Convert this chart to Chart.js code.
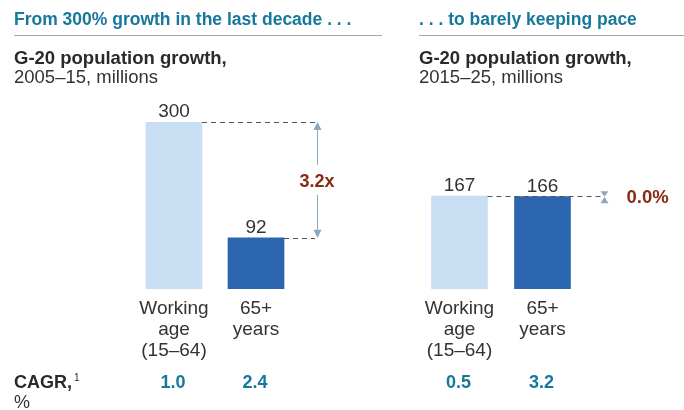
<!DOCTYPE html>
<html>
<head>
<meta charset="utf-8">
<script src="https://cdn.jsdelivr.net/npm/chart.js@4/dist/chart.umd.min.js"></script>
<style>
body { margin: 0; background: #fff; font-family: "Liberation Sans", Arial, sans-serif; }
#wrap { position: relative; width: 684px; height: 410px; overflow: hidden; }
canvas { position: absolute; left: 0; top: 0; }
.t { position: absolute; white-space: nowrap; line-height: 1; color: #333; }
.head { font-weight: bold; font-size: 17.5px; color: #16789a; }
.sub { font-weight: bold; font-size: 18.5px; color: #2a2a2a; }
.reg { font-size: 18.5px; color: #333; }
.rule { position: absolute; height: 1px; background: #a6a6a6; }
sup { font-size: 10px; font-weight: normal; vertical-align: 7px; margin-left: 2px; }
</style>
</head>
<body>
<div id="wrap">
  <canvas id="left" width="684" height="410"></canvas>
  <canvas id="right" width="684" height="410"></canvas>

  <div class="t head" style="left:14px;top:11px;">From 300% growth in the last decade . . .</div>
  <div class="rule" style="left:14px;top:35px;width:368px;"></div>
  <div class="t head" style="left:419px;top:11px;">. . . to barely keeping pace</div>
  <div class="rule" style="left:419px;top:35px;width:265px;"></div>

  <div class="t sub" style="left:14px;top:49px;">G-20 population growth,</div>
  <div class="t reg" style="left:14px;top:68px;">2005–15, millions</div>
  <div class="t sub" style="left:419px;top:49px;">G-20 population growth,</div>
  <div class="t reg" style="left:419px;top:68px;">2015–25, millions</div>

  <div class="t sub" style="left:14px;top:373px;font-size:18px;">CAGR,<sup>1</sup></div>
  <div class="t reg" style="left:14px;top:393px;font-size:18px;">%</div>
</div>
<script>
// categories (multi-line labels under the bars)
const categories = [["Working", "age", "(15–64)"], ["65+", "years"]];
// population growth, millions
const growth0515 = [300, 92];
const growth1525 = [167, 166];
// compound annual growth rate, %
const cagr0515 = [1.0, 2.4];
const cagr1525 = [0.5, 3.2];
// comparison callouts
const ratioLabel = "3.2x";
const diffLabel = "0.0%";

const lightBlue = "#c8def2";
const darkBlue = "#2c66b0";
const teal = "#16789a";
const darkRed = "#8a2a14";
const arrowColor = "#8aa9c1";

function triangle(ctx, x, tipY, baseY, half) {
    ctx.beginPath();
    ctx.moveTo(x, tipY);
    ctx.lineTo(x - half, baseY);
    ctx.lineTo(x + half, baseY);
    ctx.closePath();
    ctx.fill();
}

// draws value labels, category labels, CAGR row and the callout
const labelsPlugin = {
    id: "labels",
    afterDatasetsDraw(chart, args, opts) {
        const ctx = chart.ctx;
        const bars = chart.getDatasetMeta(0).data;
        const vals = chart.data.datasets[0].data;
        const bottom = chart.chartArea.bottom;
        ctx.save();
        ctx.textAlign = "center";
        ctx.textBaseline = "alphabetic";
        bars.forEach((bar, i) => {
            ctx.fillStyle = "#333";
            ctx.font = "19px 'Liberation Sans', Arial, sans-serif";
            ctx.fillText(String(vals[i]), bar.x, bar.y - 5);
            categories[i].forEach((line, j) => {
                ctx.fillText(line, bar.x, bottom + 25 + j * 21);
            });
            ctx.fillStyle = teal;
            ctx.font = "bold 18px 'Liberation Sans', Arial, sans-serif";
            ctx.fillText(opts.cagr[i].toFixed(1), bar.x - 1, bottom + 99);
        });

        // dashed guides
        const b0 = bars[0], b1 = bars[1];
        const arrowX = b1.x + b1.width / 2 + opts.gap;
        ctx.strokeStyle = "#555";
        ctx.lineWidth = 1;
        ctx.setLineDash([5, 4]);
        ctx.beginPath();
        ctx.moveTo(b0.x + b0.width / 2, Math.round(b0.y) + 0.5);
        ctx.lineTo(arrowX - 2, Math.round(b0.y) + 0.5);
        if (opts.kind === "ratio") {
            ctx.moveTo(b1.x + b1.width / 2, Math.round(b1.y) + 0.5);
            ctx.lineTo(arrowX - 2, Math.round(b1.y) + 0.5);
        }
        ctx.stroke();
        ctx.setLineDash([]);

        ctx.fillStyle = arrowColor;
        ctx.strokeStyle = arrowColor;
        if (opts.kind === "ratio") {
            const top = b0.y, bot = b1.y, mid = (top + bot) / 2;
            ctx.beginPath();
            ctx.moveTo(arrowX + 0.5, top + 6);
            ctx.lineTo(arrowX + 0.5, mid - 15);
            ctx.moveTo(arrowX + 0.5, mid + 15);
            ctx.lineTo(arrowX + 0.5, bot - 6);
            ctx.stroke();
            triangle(ctx, arrowX + 0.5, top, top + 8, 4);
            triangle(ctx, arrowX + 0.5, bot, bot - 8, 4);
            ctx.fillStyle = darkRed;
            ctx.font = "bold 18px 'Liberation Sans', Arial, sans-serif";
            ctx.textBaseline = "middle";
            ctx.fillText(opts.text, arrowX, mid + 2);
        } else {
            const y = (b0.y + b1.y) / 2 + 0.5;
            triangle(ctx, arrowX + 2, y, y - 5.5, 4);
            triangle(ctx, arrowX + 2, y, y + 6.5, 4);
            ctx.fillStyle = darkRed;
            ctx.font = "bold 18.5px 'Liberation Sans', Arial, sans-serif";
            ctx.textAlign = "left";
            ctx.textBaseline = "middle";
            ctx.fillText(opts.text, arrowX + 24, y + 1);
        }
        ctx.restore();
    }
};

function makeChart(id, values, padLeft, padRight, opts) {
    return new Chart(document.getElementById(id), {
        type: "bar",
        data: {
            labels: categories.map(c => c.join(" ")),
            datasets: [{
                data: values,
                backgroundColor: [lightBlue, darkBlue],
                barThickness: 56,
                borderWidth: 0
            }]
        },
        options: {
            responsive: false,
            animation: false,
            layout: { padding: { left: padLeft, right: padRight, top: 122, bottom: 121 } },
            plugins: {
                legend: { display: false },
                tooltip: { enabled: false },
                labels: opts
            },
            scales: {
                x: { display: false },
                y: { display: false, min: 0, max: 300 }
            }
        },
        plugins: [labelsPlugin]
    });
}

makeChart("left", growth0515, 133, 387, { cagr: cagr0515, kind: "ratio", text: ratioLabel, gap: 33 });
makeChart("right", growth1525, 418, 100, { cagr: cagr1525, kind: "diff", text: diffLabel, gap: 32 });
</script>
</body>
</html>
